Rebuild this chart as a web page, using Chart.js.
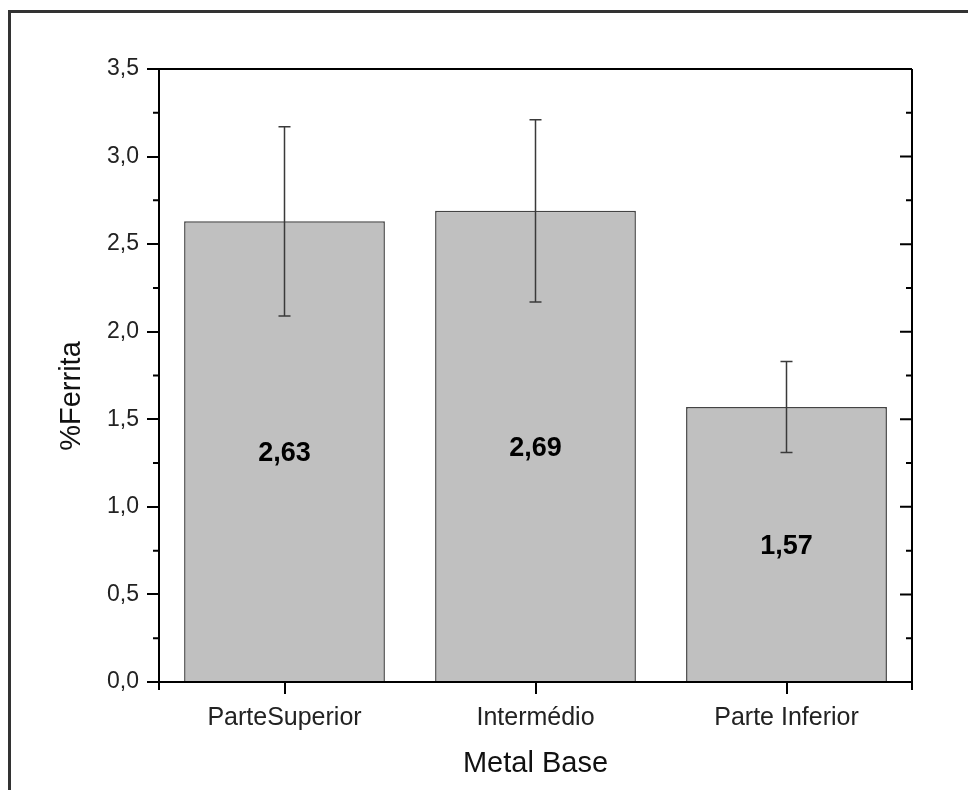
<!DOCTYPE html>
<html>
<head>
<meta charset="utf-8">
<script src="https://cdn.jsdelivr.net/npm/chart.js@4"></script>
<style>
  html, body { margin: 0; padding: 0; background: #fff; }
  #wrap { width: 968px; height: 790px; }
</style>
</head>
<body>
<div id="wrap"><canvas id="chart" width="968" height="790"></canvas></div>
<script>
// data
const categories = ["ParteSuperior", "Intermédio", "Parte Inferior"];
const ferrita = [2.63, 2.69, 1.57];
const erro = [0.54, 0.52, 0.26];
const yTicks = [0, 0.5, 1.0, 1.5, 2.0, 2.5, 3.0, 3.5];
const yMinorTicks = [0.25, 0.75, 1.25, 1.75, 2.25, 2.75, 3.25];
const xTitle = "Metal Base";
const yTitle = "%Ferrita";

const FONT = "'Liberation Sans', Arial, sans-serif";
const fmt = v => v.toFixed(2).replace(".", ",");

// frame, spines, minor ticks, error bars, labels
const extras = {
  id: "extras",
  afterDatasetsDraw(chart) {
    const ctx = chart.ctx;
    const a = chart.chartArea;
    const x = chart.scales.x, y = chart.scales.y;
    ctx.save();

    // error bars
    ctx.strokeStyle = "#3a3a3a";
    ctx.lineWidth = 1.5;
    ferrita.forEach((v, i) => {
      const px = x.getPixelForValue(i);
      const top = y.getPixelForValue(v + erro[i]);
      const bot = y.getPixelForValue(v - erro[i]);
      ctx.beginPath();
      ctx.moveTo(px, top); ctx.lineTo(px, bot);
      ctx.moveTo(px - 6, top); ctx.lineTo(px + 6, top);
      ctx.moveTo(px - 6, bot); ctx.lineTo(px + 6, bot);
      ctx.stroke();
    });

    // value labels in the middle of each bar
    ctx.fillStyle = "#000";
    ctx.font = "bold 27px " + FONT;
    ctx.textAlign = "center";
    ctx.textBaseline = "middle";
    ferrita.forEach((v, i) => {
      ctx.fillText(fmt(v), x.getPixelForValue(i), y.getPixelForValue(v / 2) + 2);
    });

    // top and right spines
    ctx.strokeStyle = "#000";
    ctx.lineWidth = 2;
    ctx.beginPath();
    ctx.moveTo(a.left, a.top); ctx.lineTo(a.right, a.top);
    ctx.moveTo(a.right, a.top); ctx.lineTo(a.right, a.bottom + 8);
    ctx.stroke();

    // right axis ticks (inward)
    ctx.beginPath();
    yTicks.forEach(t => {
      const py = y.getPixelForValue(t);
      ctx.moveTo(a.right - 12, py); ctx.lineTo(a.right, py);
    });
    yMinorTicks.forEach(t => {
      const py = y.getPixelForValue(t);
      ctx.moveTo(a.right - 6, py); ctx.lineTo(a.right, py);
      // left axis minor ticks (outward)
      ctx.moveTo(a.left - 6, py); ctx.lineTo(a.left, py);
    });
    // bottom end ticks
    ctx.moveTo(a.left, a.bottom); ctx.lineTo(a.left, a.bottom + 8);
    ctx.stroke();

    // y title
    ctx.fillStyle = "#111";
    ctx.font = "29px " + FONT;
    ctx.translate(72, 396);
    ctx.rotate(-Math.PI / 2);
    ctx.fillText(yTitle, 0, 0);
    ctx.restore();

    // outer frame
    ctx.save();
    ctx.strokeStyle = "#333";
    ctx.lineWidth = 3;
    ctx.beginPath();
    ctx.moveTo(9.5, 800); ctx.lineTo(9.5, 11.5); ctx.lineTo(980, 11.5);
    ctx.stroke();
    ctx.restore();
  }
};

new Chart(document.getElementById("chart"), {
  type: "bar",
  data: {
    labels: categories,
    datasets: [{
      data: ferrita,
      backgroundColor: "#c0c0c0",
      borderColor: "#444",
      borderWidth: 1.5,
      barPercentage: 0.8,
      categoryPercentage: 1.0
    }]
  },
  options: {
    responsive: false,
    animation: false,
    layout: { padding: { left: 0, right: 56, top: 69, bottom: 0 } },
    plugins: { legend: { display: false }, tooltip: { enabled: false } },
    scales: {
      x: {
        offset: true,
        afterFit: s => { s.height = 108; },
        grid: { offset: false, drawOnChartArea: false, tickLength: 12, color: "#000", lineWidth: 2 },
        border: { color: "#000", width: 2 },
        ticks: { color: "#222", font: { family: FONT, size: 25 }, padding: 9 },
        title: { display: true, text: xTitle, color: "#111", font: { family: FONT, size: 29 }, padding: { top: 0, bottom: 9 } }
      },
      y: {
        min: 0,
        max: 3.5,
        afterFit: s => { s.width = 159; },
        afterBuildTicks: s => { s.ticks = yTicks.map(v => ({ value: v })); },
        grid: { drawOnChartArea: false, tickLength: 12, color: "#000", lineWidth: 2 },
        border: { color: "#000", width: 2 },
        ticks: {
          color: "#222",
          font: { family: FONT, size: 23 },
          padding: 8,
          callback: v => v.toFixed(1).replace(".", ",")
        }
      }
    }
  },
  plugins: [extras]
});
</script>
</body>
</html>
